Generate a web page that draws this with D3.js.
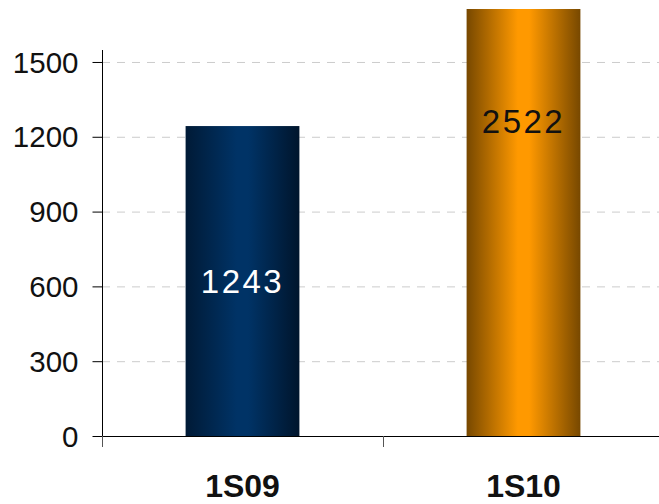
<!DOCTYPE html>
<html>
<head>
<meta charset="utf-8">
<script src="https://cdn.jsdelivr.net/npm/d3@7"></script>
<style>
  html, body { margin: 0; padding: 0; background: #fff; }
  svg { display: block; }
</style>
</head>
<body>
<svg id="chart" width="659" height="504"></svg>
<script>
const categories = ["1S09", "1S10"];
const values = [1243, 2522];
const labelColors = ["#ffffff", "#111111"];
const yTicks = [0, 300, 600, 900, 1200, 1500];

const svg = d3.select("#chart");
const W = 659, H = 504;
const x0 = 102, x1 = 664, yBase = 436, yTop = 50;

const x = d3.scaleBand().domain(categories).range([x0, x1]).paddingInner(0.595).paddingOuter(0.2975);
const y = d3.scaleLinear().domain([0, 1548]).range([yBase, yTop]);

const defs = svg.append("defs");
const gradStops = [
  [["0%", "#001a36"], ["45%", "#003366"], ["55%", "#003366"], ["100%", "#00152c"]],
  [["0%", "#774800"], ["45%", "#ff9900"], ["55%", "#ff9900"], ["100%", "#774800"]]
];
gradStops.forEach((stops, i) => {
  const g = defs.append("linearGradient").attr("id", "g" + i)
    .attr("x1", "0%").attr("x2", "100%").attr("y1", "0%").attr("y2", "0%");
  stops.forEach(s => g.append("stop").attr("offset", s[0]).attr("stop-color", s[1]));
});
defs.append("clipPath").attr("id", "clip")
  .append("rect").attr("x", 0).attr("y", 9).attr("width", W).attr("height", H);

// gridlines
svg.append("g").selectAll("line").data(yTicks.filter(d => d > 0)).join("line")
  .attr("x1", x0).attr("x2", W)
  .attr("y1", d => y(d) + 0.5).attr("y2", d => y(d) + 0.5)
  .attr("stroke", "#cccccc").attr("stroke-width", 1)
  .attr("stroke-dasharray", "8,7");

// bars
svg.append("g").attr("clip-path", "url(#clip)").selectAll("rect").data(values).join("rect")
  .attr("x", (d, i) => x(categories[i]))
  .attr("width", x.bandwidth())
  .attr("y", d => y(d))
  .attr("height", d => yBase - y(d))
  .attr("fill", (d, i) => `url(#g${i})`);

// value labels
svg.append("g").selectAll("text").data(values).join("text")
  .attr("x", (d, i) => x(categories[i]) + x.bandwidth() / 2)
  .attr("y", d => y(d / 2))
  .attr("dy", "0.36em")
  .attr("text-anchor", "middle")
  .attr("font-family", "Liberation Sans, Arial, sans-serif")
  .attr("font-size", 33)
  .attr("letter-spacing", "2.5px")
  .attr("fill", (d, i) => labelColors[i])
  .text(d => d);

// y axis
const yAxis = svg.append("g").attr("transform", `translate(${x0 + 0.5},0)`);
yAxis.append("line").attr("x1", 0).attr("x2", 0).attr("y1", yTop).attr("y2", 447)
  .attr("stroke", "#000").attr("stroke-width", 1);
yAxis.selectAll("line.tk").data(yTicks).join("line").attr("class", "tk")
  .attr("x1", -10).attr("x2", 0)
  .attr("y1", d => y(d) + 0.5).attr("y2", d => y(d) + 0.5)
  .attr("stroke", "#000");
yAxis.selectAll("text").data(yTicks).join("text")
  .attr("x", -24).attr("y", d => y(d)).attr("dy", "0.36em")
  .attr("text-anchor", "end")
  .attr("font-family", "Liberation Sans, Arial, sans-serif")
  .attr("font-size", 29.5)
  .attr("fill", "#111")
  .text(d => d);

// x axis
const xAxis = svg.append("g");
xAxis.append("line").attr("x1", x0).attr("x2", W).attr("y1", yBase + 0.5).attr("y2", yBase + 0.5)
  .attr("stroke", "#000");
const bounds = categories.map(c => x(c) - x.step() * x.paddingInner() / 2).concat([x1]);
xAxis.selectAll("line.tk").data(bounds).join("line").attr("class", "tk")
  .attr("x1", d => Math.round(d) + 0.5).attr("x2", d => Math.round(d) + 0.5)
  .attr("y1", yBase).attr("y2", 447)
  .attr("stroke", "#555");
xAxis.selectAll("text").data(categories).join("text")
  .attr("x", d => x(d) + x.bandwidth() / 2)
  .attr("y", 497)
  .attr("text-anchor", "middle")
  .attr("font-family", "Liberation Sans, Arial, sans-serif")
  .attr("font-size", 32)
  .attr("font-weight", "bold")
  .attr("fill", "#111")
  .text(d => d);
</script>
</body>
</html>
